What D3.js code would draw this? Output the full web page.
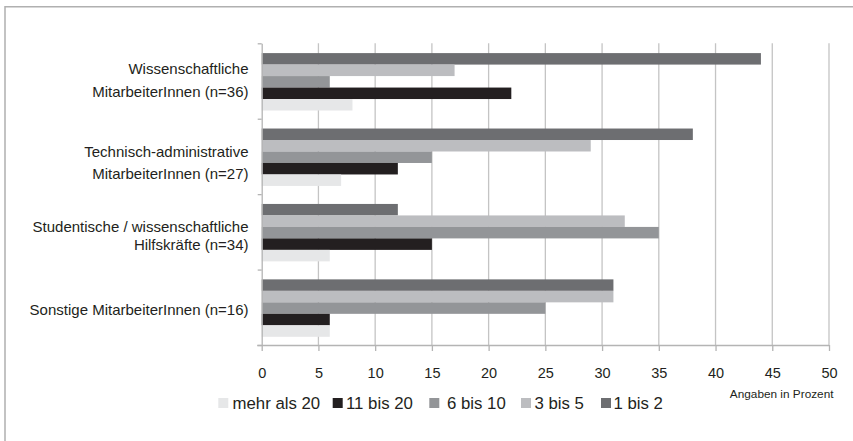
<!DOCTYPE html>
<html lang="de">
<head>
  <meta charset="utf-8"/>
  <title>Angaben in Prozent</title>
  <script src="https://cdn.jsdelivr.net/npm/d3@7/dist/d3.min.js"></script>
  <style>
    html,body { margin:0; padding:0; background:#fff; overflow:hidden; }
    svg { display:block; font-family:"Liberation Sans", Arial, sans-serif; }
    .grid line { stroke:#c4c4c4; stroke-width:1.3; }
    .axis path, .axis line { stroke:#b4b4b4; stroke-width:1.3; }
    .axis text { fill:#231f20; font-size:14.5px; }
  </style>
</head>
<body>
<svg width="853" height="441"></svg>
<script>
// Daten
const groups = [
  ["Wissenschaftliche", "MitarbeiterInnen (n=36)"],
  ["Technisch-administrative", "MitarbeiterInnen (n=27)"],
  ["Studentische / wissenschaftliche", "Hilfskräfte (n=34)"],
  ["Sonstige MitarbeiterInnen (n=16)"]
];
// Reihenfolge von oben nach unten innerhalb jeder Gruppe
const series   = ["1 bis 2", "3 bis 5", "6 bis 10", "11 bis 20", "mehr als 20"];
const vals1bis2   = [44, 38, 12, 31];
const vals3bis5   = [17, 29, 32, 31];
const vals6bis10  = [6, 15, 35, 25];
const vals11bis20 = [22, 12, 15, 6];
const valsMehr20  = [8, 7, 6, 6];
const legendOrder = ["mehr als 20", "11 bis 20", "6 bis 10", "3 bis 5", "1 bis 2"];
const xTicks = [0, 5, 10, 15, 20, 25, 30, 35, 40, 45, 50];
const unitLabel = "Angaben in Prozent";

const values = {
  "1 bis 2": vals1bis2, "3 bis 5": vals3bis5, "6 bis 10": vals6bis10,
  "11 bis 20": vals11bis20, "mehr als 20": valsMehr20
};
const colors = {
  "1 bis 2": "#6d6e71", "3 bis 5": "#bcbdc0", "6 bis 10": "#939598",
  "11 bis 20": "#231f20", "mehr als 20": "#e6e7e8"
};

// Layout
const L = 261.7, R = 829, T = 43.3, B = 345;
// Grundlinien-Versatz der Beschriftungszeilen je Gruppe (zur Bandmitte)
const labelOffsets = [[-6.6, 16.1], [0.1, 22.4], [0.6, 17.9], [7.6]];
// [Kästchen x, Text x] der Legende
const legendPos = [[218.3, 232.5], [332.7, 346], [429.3, 447], [521, 534.5], [601, 613.5]];

const svg = d3.select("svg");

// Rahmen
svg.append("path")
  .attr("d", "M5,441V6.7H853")
  .attr("fill", "none").attr("stroke", "#b0b0b0").attr("stroke-width", 1.5);

const x = d3.scaleLinear().domain([0, 50]).range([L, R]);
const y0 = d3.scaleBand().domain(d3.range(groups.length)).range([T, B]);
const y1 = d3.scaleBand().domain(series).range([9.8, y0.bandwidth() - 8.2]);

// Gitternetz
svg.append("g").attr("class", "grid")
  .selectAll("line").data(xTicks.slice(1)).join("line")
    .attr("x1", d => x(d)).attr("x2", d => x(d))
    .attr("y1", T).attr("y2", B);

// Balken
const gG = svg.append("g").selectAll("g").data(groups).join("g")
  .attr("transform", (d, i) => `translate(0,${y0(i)})`);
gG.selectAll("rect")
  .data((d, i) => series.map(s => ({ s, v: values[s][i] })))
  .join("rect")
    .attr("x", x(0))
    .attr("y", d => y1(d.s))
    .attr("width", d => x(d.v) - x(0))
    .attr("height", y1.bandwidth())
    .attr("fill", d => colors[d.s]);

// x-Achse
const xAxis = svg.append("g").attr("class", "axis")
  .attr("transform", `translate(0,${B})`)
  .call(d3.axisBottom(x).tickValues(xTicks).tickSizeInner(6).tickSizeOuter(0).tickPadding(17));
xAxis.select(".domain").attr("d", `M${L - 4.5},0.5H${R}`);

// y-Achse (Striche an Gruppengrenzen)
const yIdx = d3.scaleLinear().domain([0, groups.length]).range([T, B]);
svg.append("g").attr("class", "axis")
  .attr("transform", `translate(${L},0)`)
  .call(d3.axisLeft(yIdx).ticks(groups.length).tickSize(4).tickSizeOuter(0).tickFormat(""));

// Kategorien
groups.forEach((lines, i) => {
  const cy = y0(i) + y0.bandwidth() / 2;
  lines.forEach((t, j) => {
    svg.append("text")
      .attr("x", 248.5).attr("y", cy + labelOffsets[i][j])
      .attr("text-anchor", "end")
      .attr("font-size", 15).attr("fill", "#231f20")
      .text(t);
  });
});

// Einheit
svg.append("text")
  .attr("x", 833.5).attr("y", 398)
  .attr("text-anchor", "end")
  .attr("font-size", 11.8).attr("fill", "#231f20")
  .text(unitLabel);

// Legende
const lg = svg.append("g").selectAll("g").data(legendOrder).join("g");
lg.append("rect")
  .attr("x", (d, i) => legendPos[i][0]).attr("y", 398)
  .attr("width", 10).attr("height", 10)
  .attr("fill", d => colors[d]);
lg.append("text")
  .attr("x", (d, i) => legendPos[i][1]).attr("y", 409)
  .attr("font-size", 16.8).attr("fill", "#231f20")
  .text(d => d);
</script>
</body>
</html>
